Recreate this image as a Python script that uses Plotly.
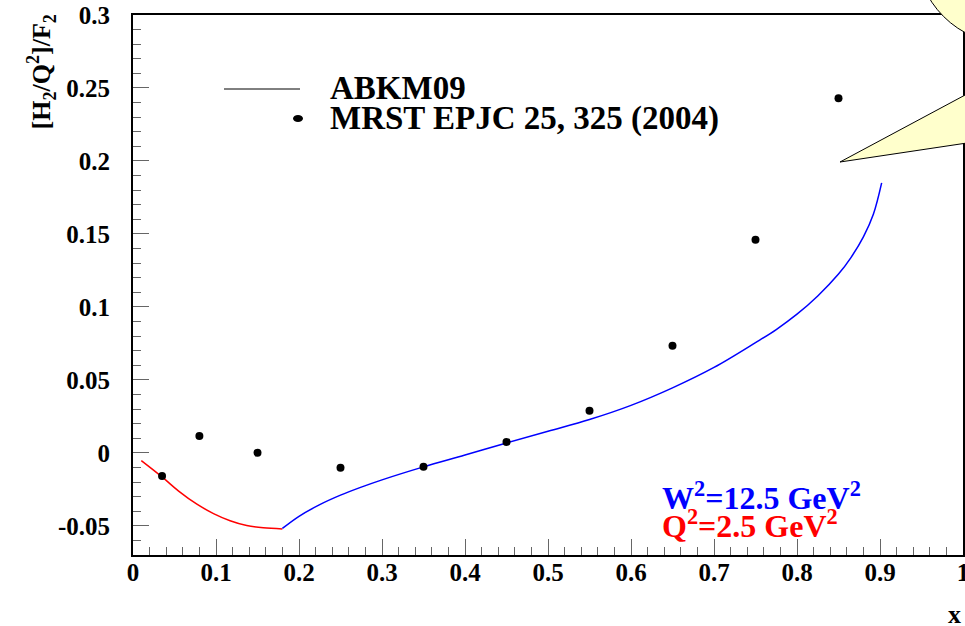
import plotly.graph_objects as go

# ABKM09 curve (red part: low x, blue part: W^2 = 12.5 GeV^2)
x_red = [0.01, 0.035, 0.055, 0.077, 0.097, 0.117, 0.137, 0.157, 0.18]
y_red = [-0.0053, -0.0165, -0.0262, -0.0352, -0.0416, -0.0465, -0.0498, -0.0514, -0.0521]

x_blue = [0.18, 0.2, 0.225, 0.25, 0.275, 0.3, 0.35, 0.4, 0.45, 0.5, 0.55, 0.6, 0.65, 0.7, 0.75,
          0.775, 0.8, 0.825, 0.85, 0.865, 0.88, 0.892, 0.902]
y_blue = [-0.0518, -0.0435, -0.0355, -0.0290, -0.0235, -0.0185, -0.0096, -0.0015, 0.0068, 0.0148,
          0.0228, 0.0325, 0.0445, 0.0585, 0.0755, 0.0845, 0.0950, 0.1075, 0.1225, 0.1338, 0.1480,
          0.1635, 0.1850]

# MRST EPJC 25, 325 (2004) points
x_mrst = [0.035, 0.08, 0.15, 0.25, 0.35, 0.45, 0.55, 0.65, 0.75, 0.85]
y_mrst = [-0.0158, 0.0116, 0.0, -0.0103, -0.0096, 0.0075, 0.0288, 0.0733, 0.146, 0.243]

x_ticks = [0, 0.1, 0.2, 0.3, 0.4, 0.5, 0.6, 0.7, 0.8, 0.9, 1]
x_ticklabels = ["0", "0.1", "0.2", "0.3", "0.4", "0.5", "0.6", "0.7", "0.8", "0.9", "1"]
y_ticks = [-0.05, 0, 0.05, 0.1, 0.15, 0.2, 0.25, 0.3]
y_ticklabels = ["-0.05", "0", "0.05", "0.1", "0.15", "0.2", "0.25", "0.3"]

FONT = "Liberation Serif"
W, H = 965, 626
L, R, T, B = 133, 2, 15, 71
PW, PH = W - L - R, H - T - B


def px(xp):
    return (xp - L) / PW


def py(yp):
    return (H - B - yp) / PH


fig = go.Figure()
fig.add_trace(go.Scatter(x=x_red, y=y_red, mode="lines", line=dict(color="#ff0000", width=1.5, shape="spline"),
                         showlegend=False, hoverinfo="skip"))
fig.add_trace(go.Scatter(x=x_blue, y=y_blue, mode="lines", line=dict(color="#0000ff", width=1.5, shape="spline"),
                         showlegend=False, hoverinfo="skip"))
fig.add_trace(go.Scatter(x=x_mrst, y=y_mrst, mode="markers", marker=dict(color="black", size=8),
                         showlegend=False, hoverinfo="skip"))

axis_common = dict(
    showgrid=False, zeroline=False, showline=True, linecolor="black", linewidth=2, mirror=True,
    ticks="inside", tickcolor="#666666", tickwidth=1, ticklen=16, ticklabeloverflow="allow",
    automargin=False,
    tickfont=dict(family=FONT, size=25, color="black", weight="bold"),
)
fig.update_xaxes(range=[0, 1], tickvals=x_ticks, ticktext=x_ticklabels,
                 minor=dict(dtick=0.02, ticks="inside", ticklen=8, tickcolor="#666666", tickwidth=1, showgrid=False),
                 ticklabelstandoff=-6, **axis_common)
fig.update_yaxes(range=[-0.07, 0.3], tickvals=y_ticks, ticktext=y_ticklabels,
                 minor=dict(dtick=0.01, ticks="inside", ticklen=8, tickcolor="#666666", tickwidth=1, showgrid=False),
                 ticklabelstandoff=16, **axis_common)

shapes = []
# legend line
shapes.append(dict(type="line", xref="paper", yref="paper", x0=px(224), x1=px(300), y0=py(89), y1=py(89),
                   line=dict(color="black", width=1)))
# legend bullet
shapes.append(dict(type="circle", xref="paper", yref="paper", x0=px(293), x1=px(303), y0=py(115), y1=py(122),
                   fillcolor="black", line=dict(color="black", width=0)))
# callout ellipse (partially visible at top right)
shapes.append(dict(type="circle", xref="paper", yref="paper", x0=px(916), x1=px(1104), y0=py(44), y1=py(-144),
                   fillcolor="#ffffcc", line=dict(color="black", width=1)))
# callout pointer
tri = "M {},{} L {},{} L {},{} Z".format(px(840), py(162), px(967), py(94), px(967), py(143))
shapes.append(dict(type="path", xref="paper", yref="paper", path=tri,
                   fillcolor="#ffffcc", line=dict(color="black", width=1)))

annotations = [
    dict(text="ABKM09", x=px(328), y=py(88), xanchor="left", yanchor="middle"),
    dict(text="MRST EPJC 25, 325 (2004)", x=px(328), y=py(119), xanchor="left", yanchor="middle"),
    dict(text="W<sup>2</sup>=12.5 GeV<sup>2</sup>", x=px(660), y=py(496), xanchor="left", yanchor="middle",
         font=dict(family=FONT, size=32, color="#0000ff", weight="bold")),
    dict(text="Q<sup>2</sup>=2.5 GeV<sup>2</sup>", x=px(660), y=py(524), xanchor="left", yanchor="middle",
         font=dict(family=FONT, size=32, color="#ff0000", weight="bold")),
    dict(text="[H<sub>2</sub>/Q<sup>2</sup>]/F<sub>2</sub>", x=px(42), y=py(13), xanchor="center", yanchor="top",
         textangle=-90, font=dict(family=FONT, size=26, color="black", weight="bold")),
    dict(text="x", x=px(954), y=py(614), xanchor="center", yanchor="middle",
         font=dict(family=FONT, size=26, color="black", weight="bold")),
]
for a in annotations:
    a.setdefault("xref", "paper")
    a.setdefault("yref", "paper")
    a.setdefault("showarrow", False)
    a.setdefault("font", dict(family=FONT, size=33, color="black", weight="bold"))

fig.update_layout(
    width=W, height=H, margin=dict(l=L, r=R, t=T, b=B),
    paper_bgcolor="white", plot_bgcolor="white",
    shapes=shapes, annotations=annotations, showlegend=False,
)
fig.write_html("out.html", config={"displayModeBar": False})
